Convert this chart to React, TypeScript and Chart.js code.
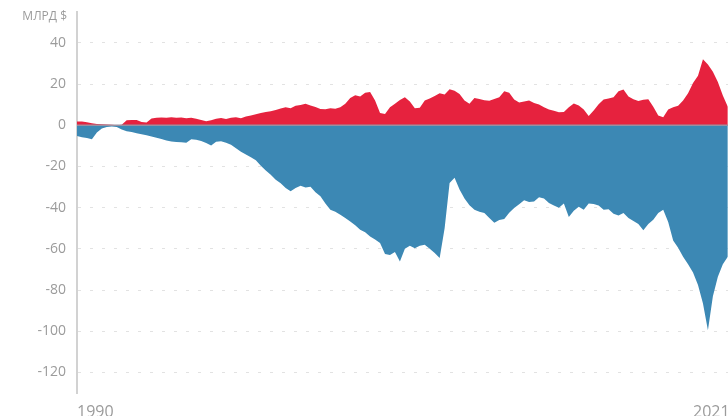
import React, { useEffect, useRef } from "react";
import { Chart, registerables } from "chart.js";

Chart.register(...registerables);

// Quarterly observations starting in 1990 (values in billions of dollars)
const START_YEAR = 1990;
const STEP_YEARS = 0.25;

const surplus = [
  1.8, 1.8, 1.5, 1.0, 0.6, 0.5, 0.4, 0.3, 0.0, 0.2,
  2.4, 2.6, 2.5, 1.6, 1.4, 3.3, 3.6, 3.8, 3.7, 3.9,
  3.6, 3.8, 3.4, 3.6, 3.2, 2.6, 1.9, 2.4, 3.2, 3.5,
  3.0, 3.6, 3.9, 3.4, 4.2, 4.8, 5.3, 5.9, 6.4, 6.8,
  7.4, 8.2, 8.8, 8.3, 9.5, 9.8, 10.4, 9.6, 8.9, 7.9,
  7.8, 8.3, 8.0, 8.8, 10.5, 13.2, 14.6, 14.0, 15.8, 16.2,
  12.0, 6.0, 5.5, 8.8, 10.5, 12.3, 13.6, 11.5, 8.3, 8.5,
  12.0, 13.0, 14.2, 15.5, 15.0, 17.5, 16.8, 15.2, 12.0, 10.5,
  13.3, 12.8, 12.2, 11.9, 12.8, 13.6, 16.5, 15.8, 12.5, 11.0,
  11.6, 12.0, 10.8, 10.1, 8.8, 7.6, 7.0, 6.3, 6.5, 8.7,
  10.6, 9.6, 7.6, 4.5, 7.2, 10.2, 12.5, 13.0, 13.6, 16.5,
  17.4, 14.0, 12.6, 11.8, 12.4, 12.6, 9.0, 4.8, 3.9, 7.6,
  8.8, 9.5, 12.0, 15.5, 20.5, 24.0, 32.0, 29.5, 26.0, 21.0,
  14.5, 9.0,
];

const deficit = [
  -5.2, -5.8, -6.2, -6.8, -3.5, -1.6, -0.9, -0.6, -0.8, -2.0,
  -2.9, -3.3, -3.9, -4.4, -4.9, -5.4, -6.0, -6.7, -7.4, -7.9,
  -8.1, -8.3, -8.5, -6.8, -7.0, -7.6, -8.6, -9.8, -8.0, -7.8,
  -8.5, -9.5, -11.2, -12.8, -14.2, -15.5, -17.0, -19.6, -22.0, -24.0,
  -26.5, -28.2, -30.5, -32.0, -30.5, -29.4, -30.2, -29.8, -32.5, -34.5,
  -38.0, -41.0, -42.0, -43.4, -45.0, -46.7, -48.5, -50.7, -52.0, -54.0,
  -55.5, -57.2, -62.5, -63.0, -61.5, -66.2, -60.0, -58.5, -59.7, -58.5,
  -58.0, -60.0, -62.0, -64.5, -50.0, -28.0, -25.5, -31.2, -35.5, -38.8,
  -41.0, -42.0, -42.6, -45.0, -47.3, -46.0, -45.5, -42.5, -40.2, -38.3,
  -36.4, -37.2, -37.0, -35.0, -35.5, -37.7, -39.0, -40.1, -38.0, -44.5,
  -41.5, -39.6, -41.0, -38.0, -38.2, -39.0, -41.0, -40.8, -43.0, -43.8,
  -42.6, -45.0, -46.5, -48.0, -51.0, -48.0, -45.9, -42.6, -41.0, -47.0,
  -56.0, -59.5, -63.8, -67.5, -71.5, -77.5, -86.5, -99.5, -83.0, -73.5,
  -67.5, -63.8,
];

const yTicks = [-120, -100, -80, -60, -40, -20, 0, 20, 40];
const xTicks = [1990, 2021];
const unitLabel = "МЛРД $";

const TEXT_COLOR = "#9b9b9b";
const FONT = '"Open Sans", "DejaVu Sans", sans-serif';

export default function App() {
  const ref = useRef<HTMLCanvasElement | null>(null);

  useEffect(() => {
    document.body.style.margin = "0";
    const canvas = ref.current;
    if (!canvas) return;

    const toPoints = (arr: number[]) =>
      arr.map((v, i) => ({ x: START_YEAR + i * STEP_YEARS, y: v }));

    const zeroLine = {
      id: "zeroLine",
      afterDatasetsDraw(chart: any) {
        const { ctx, chartArea, scales } = chart;
        const py = scales.y.getPixelForValue(0);
        ctx.save();
        ctx.strokeStyle = "#9a8fa0";
        ctx.lineWidth = 1.5;
        ctx.beginPath();
        ctx.moveTo(chartArea.left, py);
        ctx.lineTo(chartArea.right, py);
        ctx.stroke();
        ctx.restore();
      },
    };

    const unitPlugin = {
      id: "unitLabel",
      afterDraw(chart: any) {
        const { ctx, chartArea } = chart;
        ctx.save();
        ctx.font = `12px ${FONT}`;
        ctx.fillStyle = TEXT_COLOR;
        ctx.textAlign = "right";
        ctx.textBaseline = "middle";
        ctx.fillText(unitLabel, chartArea.left - 10, chartArea.top + 5);
        ctx.restore();
      },
    };

    const chart = new Chart(canvas, {
      type: "line",
      data: {
        datasets: [
          {
            data: toPoints(surplus),
            backgroundColor: "#e6223e",
            borderWidth: 0,
            pointRadius: 0,
            fill: "origin",
            tension: 0,
          },
          {
            data: toPoints(deficit),
            backgroundColor: "#3c88b4",
            borderWidth: 0,
            pointRadius: 0,
            fill: "origin",
            tension: 0,
          },
        ],
      },
      options: {
        animation: false,
        responsive: false,
        maintainAspectRatio: false,
        layout: { padding: { top: 12, left: 0, right: 0, bottom: 0 } },
        plugins: {
          legend: { display: false },
          tooltip: { enabled: false },
        },
        scales: {
          x: {
            type: "linear",
            min: 1990,
            max: 2022.76,
            grid: { display: false },
            border: { display: false },
            afterBuildTicks: (s: any) => {
              s.ticks = xTicks.map((v) => ({ value: v }));
            },
            afterFit: (s: any) => {
              s.height = 23;
              s.paddingLeft = 0;
              s.paddingRight = 0;
            },
            ticks: {
              align: "start",
              padding: 2,
              color: TEXT_COLOR,
              font: { family: FONT, size: 16 },
              autoSkip: false,
              maxRotation: 0,
              callback: (v: any) => String(v),
            },
          },
          y: {
            min: -130,
            max: 55,
            afterBuildTicks: (s: any) => {
              s.ticks = yTicks.map((v) => ({ value: v }));
            },
            afterFit: (s: any) => {
              s.width = 77;
              s.paddingTop = 0;
              s.paddingBottom = 0;
            },
            grid: {
              color: "#e2e2e2",
              lineWidth: 1,
              drawTicks: false,
            },
            border: {
              display: true,
              color: "#d2d2d2",
              width: 2,
              dash: [3, 9],
            },
            ticks: {
              padding: 11,
              color: TEXT_COLOR,
              font: { family: FONT, size: 14 },
              callback: (v: any) => String(v),
            },
          },
        },
      },
      plugins: [zeroLine, unitPlugin],
    });

    return () => chart.destroy();
  }, []);

  return (
    <div style={{ width: 728, height: 416, background: "#fff" }}>
      <canvas ref={ref} width={728} height={416} style={{ display: "block" }} />
    </div>
  );
}
